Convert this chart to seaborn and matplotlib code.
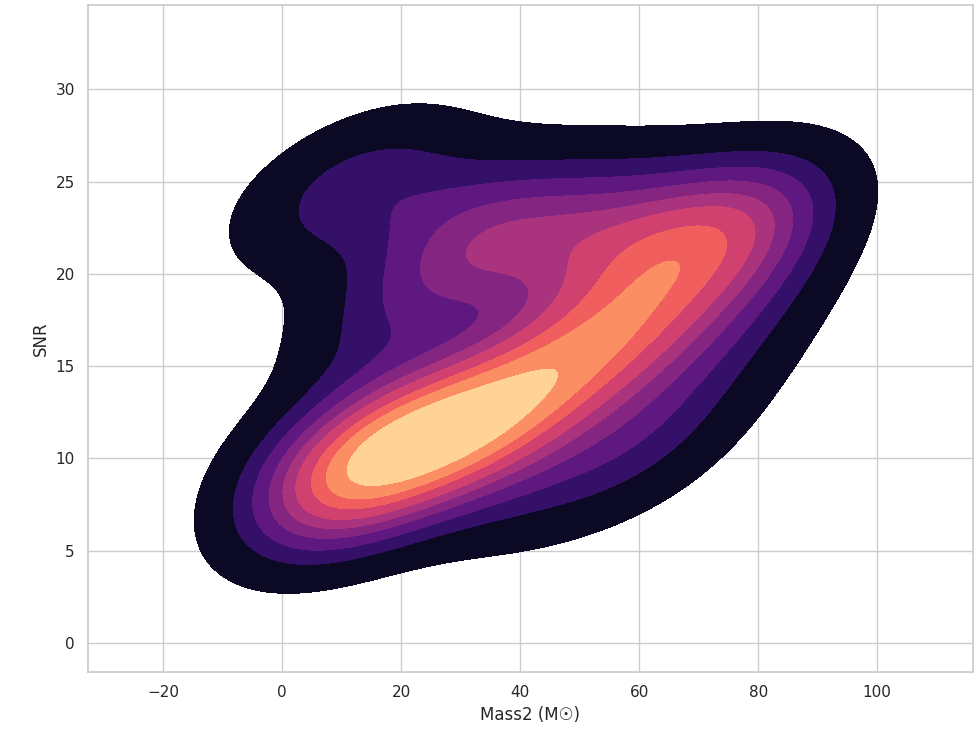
import matplotlib
matplotlib.use("Agg")
import matplotlib.pyplot as plt
import seaborn as sns
import pandas as pd

# Estimated underlying observations (Mass2 in solar masses, SNR)
mass2 = [8, 12, 16, 20, 24, 28, 32, 36, 40, 44, 14, 22, 30, 38, 18, 26, 34,
         47, 50, 55, 57, 60, 65, 70, 58, 48,
         2.5, 10, 22, 16, 28, 34, 40, 46, 52, 58, 64, 70, 76, 81, 35, 50, 65, 81, 80,
         30,
         14, 18,
         4, 8, 10, 4,
         40, 52, 60, 66, 74, 80]
snr = [9, 9.5, 10, 10.5, 11, 11.5, 12, 12.5, 13, 13.5, 11.5, 12.5, 13, 14, 8.5, 9.5, 10.5,
       14.5, 15, 16, 16.5, 17, 18.5, 19.5, 19, 17,
       23.5, 24, 24.5, 26, 22, 21, 21.5, 22, 21.5, 22, 21.5, 22.5, 23, 22, 24, 24, 23.5, 23.5, 23,
       20.5,
       17, 18,
       8, 7, 8, 10.5,
       8, 9.5, 10.5, 12.5, 15.5, 19]

df = pd.DataFrame({"Mass2": mass2, "SNR": snr})

sns.set_theme(style="whitegrid")
fig = plt.figure(figsize=(9.74, 7.47), dpi=100)
ax = fig.add_axes([88 / 974, 75 / 747, (973 - 88) / 974, (672 - 5) / 747])
sns.kdeplot(data=df, x="Mass2", y="SNR", fill=True, cmap="magma", ax=ax)
ax.set_xlabel("Mass2 (M☉)")
ax.set_ylabel("SNR")
fig.savefig("out.png", dpi=100)
